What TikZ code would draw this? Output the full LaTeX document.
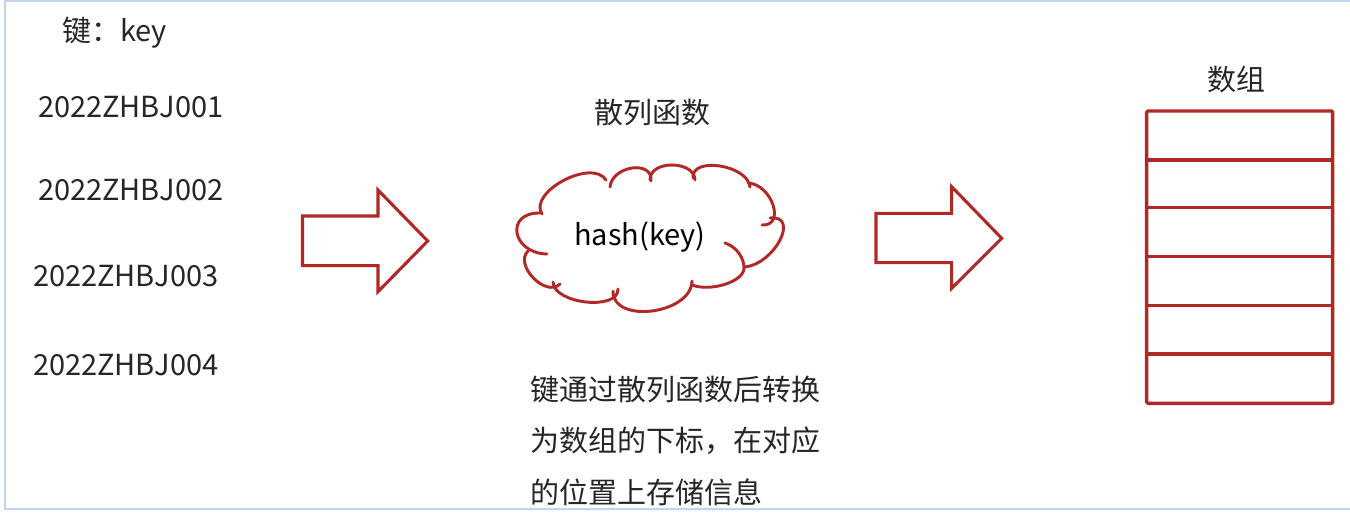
\documentclass[tikz,border=0pt]{standalone}
\usepackage{fontspec}
\setmainfont{Noto Sans CJK SC}
\definecolor{redc}{RGB}{178,40,38}
\definecolor{txtc}{RGB}{38,38,38}
\definecolor{framec}{RGB}{190,214,246}
\begin{document}
\begin{tikzpicture}[x=0.75pt,y=-0.75pt,
  lbl/.style={inner sep=0pt,outer sep=0pt,text=txtc,font=\fontsize{21.75pt}{26pt}\selectfont},
  blockarrow/.style={draw=redc,line width=2.3pt,line join=miter},
  puff/.style={draw=redc,line width=2.2pt,line cap=round},
  arr/.style={draw=redc,line width=2.6pt}]
\useasboundingbox (0,0) rectangle (1350,514);
\fill[white] (0,0) rectangle (1350,514);
% frame
\draw[framec,line width=2.2pt] (5,-2) -- (5,509) -- (1352,509);
\draw[framec,line width=1.8pt] (5,1) -- (1352,1);

% keys
\node[lbl,anchor=base west] (keyt) at (62,41) {键：key};
\node[lbl,anchor=base west] (k1) at (38,117.5) {2022ZHBJ001};
\node[lbl,anchor=base west] (k2) at (38,200.5) {2022ZHBJ002};
\node[lbl,anchor=base west] (k3) at (33,286.5) {2022ZHBJ003};
\node[lbl,anchor=base west] (k4) at (33,375.5) {2022ZHBJ004};

% block arrows
\draw[blockarrow] (302.5,216) -- (378,216) -- (378,190) -- (427.7,241) -- (378,291.7) -- (378,265.7) -- (302.5,265.7) -- cycle;
\draw[blockarrow] (876,213.3) -- (951.7,213.3) -- (951.7,186.7) -- (1001.7,238.3) -- (951.7,288.3) -- (951.7,262.7) -- (876,262.7) -- cycle;

% hash function
\node[lbl,anchor=base] (hf) at (652,123) {散列函数};
% cloud
\draw[puff] (606,180) .. controls (591.9,158) and (527.9,192) .. (542,214);
\draw[puff] (540,213) .. controls (504.7,212.3) and (511.7,253.3) .. (547,254);
\draw[puff] (528,251) .. controls (513.7,264.9) and (545.7,297.9) .. (560,284);
\draw[puff] (553,282) .. controls (553.7,304) and (618.7,311) .. (618,289);
\draw[puff] (613,291) .. controls (612.3,324.3) and (691.3,314.3) .. (692,281);
\draw[puff] (725,243) .. controls (737,247) and (744,258) .. (744,268)
                      .. controls (744,282) and (710,292) .. (692,285);
\draw[puff] (745,267) .. controls (775,263.7) and (800,214.7) .. (770,218);
\draw[puff] (748,183) .. controls (772,184.3) and (786,226.3) .. (762,225);
\draw[puff] (693,178) .. controls (691,156) and (748,165) .. (750,187);
\draw[puff] (650,180) .. controls (649.3,160) and (694.3,160) .. (695,180);
\draw[puff] (610,187) .. controls (612,165.7) and (653,159.7) .. (651,181);
\node[lbl,anchor=base,text=black] (hk) at (640,245) {hash(key)};

% description
\node[lbl,anchor=base west] (d1) at (530,400) {键通过散列函数后转换};
\node[lbl,anchor=base west] (d2) at (530,451) {为数组的下标，在对应};
\node[lbl,anchor=base west] (d3) at (530,503) {的位置上存储信息};

% array
\node[lbl,anchor=base] (arrt) at (1236,90) {数组};
\draw[arr,rounded corners=1pt] (1146.7,111) rectangle (1332.7,403.3);
\foreach \yy in {160,207.7,256.7,305.7,354} \draw[arr] (1146.7,\yy) -- (1332.7,\yy);
\end{tikzpicture}
\end{document}
